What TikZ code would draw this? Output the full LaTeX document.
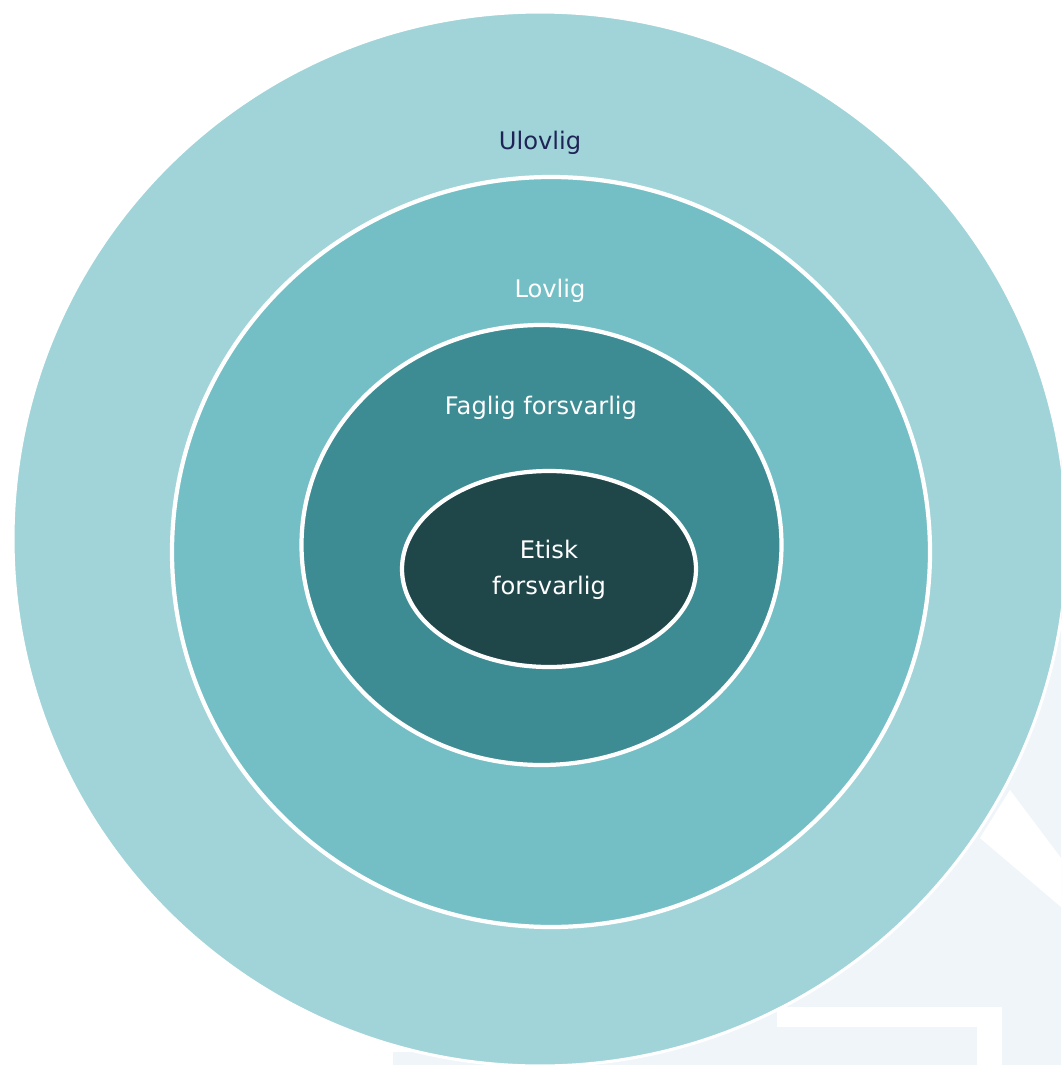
\documentclass[tikz,border=0pt]{standalone}
\usepackage{fontspec}
\setmainfont{DejaVu Sans}
\usepackage{tikz}
\definecolor{cus-pale}{RGB}{240,245,250}
\definecolor{cus-ring1}{RGB}{160,212,216}
\definecolor{cus-ring2}{RGB}{116,191,197}
\definecolor{cus-ring3}{RGB}{62,140,147}
\definecolor{cus-core}{RGB}{31,71,74}
\definecolor{cus-navy}{RGB}{31,36,87}

\tikzset{
	lbl/.style={font=\fontsize{17.2}{25.5}\selectfont, align=center, inner sep=0pt},
}

\begin{document}
\begin{tikzpicture}[x=0.025cm, y=-0.025cm]
\useasboundingbox (0,0) rectangle (1061,1065);
\clip (0,0) rectangle (1061,1065);
% pale backdrop in the lower right corner
\fill [cus-pale] (393,1052) -- (643,1052) -- (643,860) -- (860,860) -- (860,615) -- (1061,615) -- (1061,1065) -- (393,1065) -- cycle;
\fill [white] (1010,790) -- (1061,858) -- (1061,907) -- (980,838) -- cycle;
\fill [white] (777,1007) rectangle (1002,1027);
\fill [white] (977,1007) rectangle (1002,1065);
% rings, outside in
\foreach \cx/\cy/\rx/\ry/\col/\lw in {540/539/527/527/cus-ring1/2.2, 551/552/379/375/cus-ring2/3, 541.5/545/240/220/cus-ring3/3, 549/569/147/98/cus-core/3}{
	\filldraw [fill=\col, draw=white, line width=\lw pt] (\cx,\cy) ellipse [x radius=\rx, y radius=\ry];
}
\node [lbl, text=cus-navy, anchor=base] (ulovlig) at (540,149) {Ulovlig};
\node [lbl, text=white, anchor=base] (lovlig) at (550,297) {Lovlig};
\node [lbl, text=white, anchor=base] (faglig) at (541,414) {Faglig forsvarlig};
\node [lbl, text=white] (etisk) at (549,570) {Etisk\\forsvarlig};
\end{tikzpicture}
\end{document}
